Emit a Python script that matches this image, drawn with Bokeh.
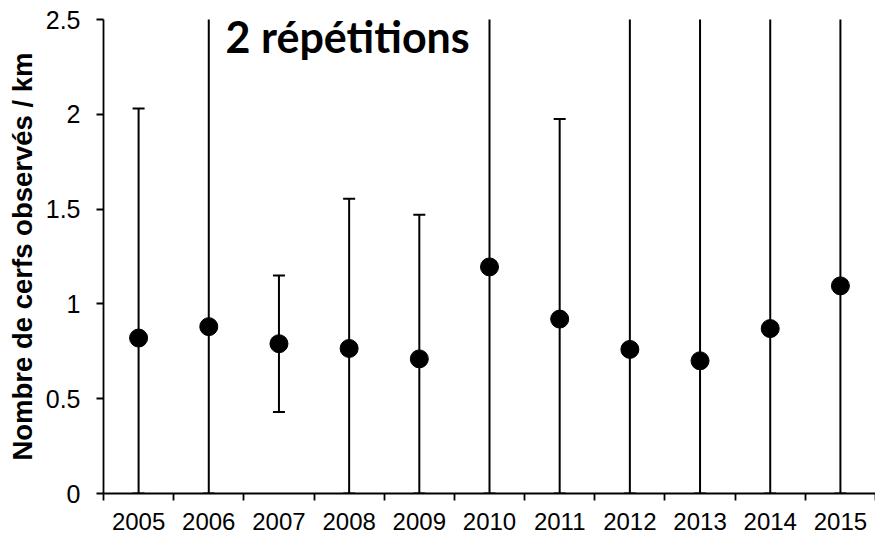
from bokeh.plotting import figure
from bokeh.models import (ColumnDataSource, Whisker, TeeHead, Label, LinearAxis,
                          Range1d, FixedTicker, NumeralTickFormatter)
from bokeh.embed import file_html
from bokeh.resources import INLINE

years = ["2005", "2006", "2007", "2008", "2009", "2010", "2011", "2012", "2013", "2014", "2015"]
mean = [0.82, 0.88, 0.79, 0.765, 0.71, 1.195, 0.92, 0.76, 0.70, 0.87, 1.095]
upper = [2.03, 3.0, 1.15, 1.555, 1.47, 3.0, 1.975, 3.0, 3.0, 3.0, 3.0]
lower = [0.0, 0.0, 0.43, 0.0, 0.0, 0.0, 0.0, 0.0, 0.0, 0.0, 0.0]
y_ticks = [0, 0.5, 1, 1.5, 2, 2.5]
title_text = "2 répétitions"
y_label = "Nombre de cerfs observés / km"

n = len(years)
xpos = [i + 0.5 for i in range(n)]  # category centres on a 0..n axis
src = ColumnDataSource(dict(x=xpos, year=years, mean=mean, upper=upper, lower=lower))

p = figure(x_range=Range1d(0, n), y_range=Range1d(0, 2.5), width=875, height=534,
           output_backend="svg", toolbar_location=None, x_axis_location=None,
           min_border_left=103, min_border_top=19, min_border_right=0, min_border_bottom=41)
p.outline_line_color = None
p.xgrid.visible = False
p.ygrid.visible = False
p.background_fill_color = "white"
p.border_fill_color = "white"

# y axis
ya = p.yaxis[0]
ya.ticker = FixedTicker(ticks=y_ticks)
ya.formatter = NumeralTickFormatter(format="0.[0]")
ya.axis_line_color = "black"
ya.axis_line_width = 1.8
ya.major_tick_line_color = "black"
ya.major_tick_line_width = 1.8
ya.major_tick_out = 7
ya.major_tick_in = 0
ya.minor_tick_line_color = None
ya.major_label_text_font = "Liberation Sans"
ya.major_label_text_font_size = "25px"
ya.major_label_text_color = "black"
ya.major_label_standoff = 16
ya.axis_label = y_label
ya.axis_label_text_font = "Liberation Sans"
ya.axis_label_text_font_style = "bold"
ya.axis_label_text_font_size = "27.5px"
ya.axis_label_text_color = "black"
ya.axis_label_standoff = 5

# x axis: tick marks between categories
tick_axis = LinearAxis(ticker=FixedTicker(ticks=list(range(n + 1))),
                       major_label_text_font_size="0px", major_label_standoff=0,
                       axis_line_color="black", axis_line_width=1.8,
                       major_tick_line_color="black", major_tick_line_width=1.8,
                       major_tick_out=7, major_tick_in=0, minor_tick_line_color=None)
tick_axis.major_label_overrides = {i: "" for i in range(n + 1)}
p.add_layout(tick_axis, "below")

# x axis labels at category centres
lab_axis = LinearAxis(ticker=FixedTicker(ticks=xpos),
                      axis_line_color=None, major_tick_line_color=None,
                      major_tick_out=0, major_tick_in=0, minor_tick_line_color=None,
                      major_label_text_font="Liberation Sans",
                      major_label_text_font_size="24px",
                      major_label_text_color="black",
                      major_label_standoff=12)
lab_axis.major_label_overrides = {x: y for x, y in zip(xpos, years)}
p.add_layout(lab_axis, "below")

# error bars
w = Whisker(source=src, base="x", upper="upper", lower="lower",
            line_color="black", line_width=2,
            upper_head=TeeHead(size=12, line_color="black", line_width=2),
            lower_head=TeeHead(size=12, line_color="black", line_width=2))
p.add_layout(w)

p.scatter("x", "mean", source=src, size=18, color="black")

p.add_layout(Label(x=1.74, y=2.5, text=title_text, text_font="Lato", text_font_style="bold",
                   text_font_size="43px", text_color="black", text_baseline="top",
                   y_offset=9))

open("out.html", "w").write(file_html(p, INLINE))
